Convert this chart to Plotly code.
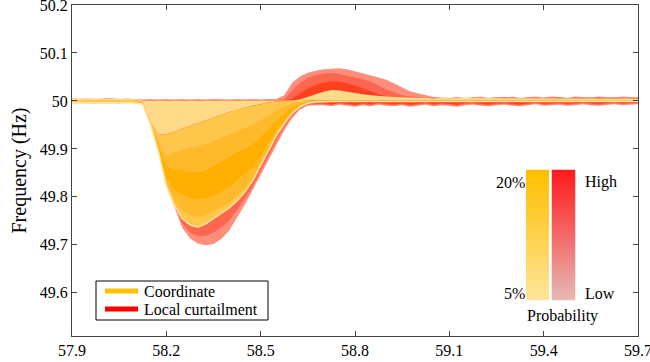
import plotly.graph_objects as go

# ---------------- data ----------------
X_ALL = [57.900, 57.925, 57.950, 57.975, 58.000, 58.025, 58.050, 58.075, 58.100,
         58.125, 58.150, 58.175, 58.200, 58.225, 58.250, 58.275, 58.300, 58.325,
         58.350, 58.375, 58.400, 58.425, 58.450, 58.475, 58.500, 58.525, 58.550,
         58.575, 58.600, 58.625, 58.650, 58.675, 58.700, 58.725, 58.750, 58.775,
         58.800, 58.825, 58.850, 58.875, 58.900, 58.925, 58.950, 58.975, 59.000,
         59.025, 59.050, 59.075, 59.100, 59.125, 59.150, 59.175, 59.200, 59.225,
         59.250, 59.275, 59.300, 59.325, 59.350, 59.375, 59.400, 59.425, 59.450,
         59.475, 59.500, 59.525, 59.550, 59.575, 59.600, 59.625, 59.650, 59.675,
         59.700]

X_DIP = [58.150, 58.175, 58.200, 58.225, 58.250, 58.275, 58.300, 58.325, 58.350,
         58.375, 58.400, 58.425, 58.450, 58.475, 58.500, 58.525, 58.550, 58.575,
         58.600, 58.625, 58.650, 58.675]

# Coordinate (orange) envelope: top, light/medium boundary, bottom edge
COORD_TOP = [50.004, 50.005, 50.004, 50.005, 50.004, 50.005, 50.004, 50.004, 50.004,
             50.001, 50.001, 50.001, 50.001, 50.001, 50.001, 50.001, 50.001, 50.001,
             50.001, 50.001, 50.001, 50.001, 50.001, 50.001, 50.001, 50.001, 50.001,
             50.001, 50.001, 50.003, 50.009, 50.014, 50.019, 50.023, 50.022, 50.019,
             50.016, 50.014, 50.012, 50.010, 50.009, 50.008, 50.007, 50.007, 50.006,
             50.006, 50.005, 50.006, 50.005, 50.006, 50.006, 50.005, 50.006, 50.005,
             50.006, 50.005, 50.006, 50.006, 50.005, 50.006, 50.005, 50.006, 50.006,
             50.005, 50.006, 50.005, 50.006, 50.006, 50.005, 50.006, 50.005, 50.006,
             50.005]
COORD_B1 = [50.002, 50.002, 50.002, 50.002, 50.002, 50.002, 50.002, 50.002, 50.002,
            49.998, 49.955, 49.930, 49.930, 49.936, 49.942, 49.948, 49.954, 49.960,
            49.965, 49.971, 49.977, 49.982, 49.986, 49.990, 49.994, 49.997, 49.999,
            50.000, 50.000, 50.000, 50.001, 50.001, 50.001, 50.001, 50.001, 50.001,
            50.001, 50.001, 50.001, 50.001, 50.001, 50.001, 50.001, 50.001, 50.001,
            50.002, 50.002, 50.002, 50.002, 50.002, 50.002, 50.002, 50.002, 50.002,
            50.002, 50.002, 50.002, 50.002, 50.002, 50.002, 50.002, 50.002, 50.002,
            50.002, 50.002, 50.002, 50.002, 50.002, 50.002, 50.002, 50.002, 50.002,
            50.002]
COORD_BOT = [49.996, 49.997, 49.996, 49.996, 49.997, 49.996, 49.996, 49.997, 49.996,
             49.993, 49.950, 49.894, 49.823, 49.783, 49.755, 49.742, 49.737, 49.744,
             49.755, 49.765, 49.777, 49.792, 49.810, 49.834, 49.865, 49.897, 49.928,
             49.953, 49.974, 49.988, 49.995, 49.998, 49.999, 49.999, 49.999, 49.999,
             49.999, 49.999, 49.999, 49.999, 49.999, 49.999, 49.999, 49.999, 49.999,
             49.999, 49.998, 49.999, 49.999, 49.998, 49.999, 49.999, 49.998, 49.999,
             49.999, 49.998, 49.999, 49.999, 49.998, 49.999, 49.999, 49.998, 49.999,
             49.999, 49.998, 49.999, 49.999, 49.998, 49.999, 49.999, 49.998, 49.999,
             49.999]
# inner probability boundaries of the Coordinate fan (over X_DIP)
COORD_B2 = [49.953, 49.915, 49.885, 49.893, 49.898, 49.902, 49.905, 49.910, 49.916,
            49.923, 49.930, 49.937, 49.944, 49.951, 49.960, 49.970, 49.980, 49.988,
            49.995, 49.998, 49.999, 49.999]
COORD_B3 = [49.952, 49.908, 49.862, 49.858, 49.855, 49.852, 49.851, 49.855, 49.864,
            49.874, 49.884, 49.893, 49.900, 49.910, 49.925, 49.942, 49.958, 49.972,
            49.986, 49.994, 49.998, 49.999]
COORD_B4 = [49.952, 49.900, 49.840, 49.815, 49.805, 49.798, 49.795, 49.797, 49.803,
            49.812, 49.821, 49.835, 49.848, 49.862, 49.885, 49.912, 49.938, 49.960,
            49.980, 49.992, 49.997, 49.999]
COORD_B5 = [49.951, 49.897, 49.828, 49.792, 49.772, 49.762, 49.758, 49.762, 49.770,
            49.779, 49.788, 49.802, 49.818, 49.840, 49.870, 49.902, 49.931, 49.955,
            49.976, 49.990, 49.996, 49.998]

# Local curtailment (red) envelopes: outer / inner / core, top and bottom
LOCAL_TOP_OUT = [50.005, 50.004, 50.005, 50.004, 50.005, 50.006, 50.004, 50.005, 50.004,
                 50.003, 50.004, 50.003, 50.004, 50.003, 50.004, 50.003, 50.004, 50.003,
                 50.004, 50.003, 50.003, 50.004, 50.003, 50.004, 50.003, 50.004, 50.004,
                 50.012, 50.038, 50.051, 50.059, 50.063, 50.066, 50.067, 50.068, 50.066,
                 50.062, 50.058, 50.054, 50.049, 50.044, 50.036, 50.028, 50.020, 50.016,
                 50.012, 50.008, 50.007, 50.006, 50.008, 50.006, 50.007, 50.009, 50.006,
                 50.008, 50.007, 50.009, 50.006, 50.008, 50.009, 50.007, 50.009, 50.008,
                 50.006, 50.009, 50.008, 50.007, 50.009, 50.008, 50.007, 50.009, 50.008,
                 50.007]
LOCAL_TOP_IN = [50.003, 50.002, 50.004, 50.002, 50.003, 50.004, 50.002, 50.003, 50.002,
                50.002, 50.002, 50.002, 50.002, 50.002, 50.002, 50.002, 50.002, 50.002,
                50.002, 50.002, 50.002, 50.002, 50.002, 50.002, 50.002, 50.002, 50.002,
                50.004, 50.022, 50.038, 50.048, 50.054, 50.057, 50.058, 50.056, 50.053,
                50.050, 50.046, 50.040, 50.032, 50.024, 50.018, 50.012, 50.009, 50.007,
                50.005, 50.006, 50.005, 50.004, 50.006, 50.005, 50.007, 50.005, 50.006,
                50.005, 50.007, 50.006, 50.005, 50.007, 50.006, 50.005, 50.007, 50.006,
                50.005, 50.007, 50.006, 50.007, 50.005, 50.006, 50.007, 50.006, 50.005,
                50.006]
LOCAL_TOP_CORE = [50.001, 50.001, 50.001, 50.001, 50.001, 50.001, 50.001, 50.001, 50.001,
                  50.001, 50.001, 50.001, 50.001, 50.001, 50.001, 50.001, 50.001, 50.001,
                  50.001, 50.001, 50.001, 50.001, 50.001, 50.001, 50.001, 50.001, 50.001,
                  50.001, 50.004, 50.016, 50.026, 50.033, 50.038, 50.041, 50.040, 50.037,
                  50.032, 50.026, 50.020, 50.013, 50.008, 50.005, 50.004, 50.003, 50.004,
                  50.003, 50.005, 50.004, 50.003, 50.005, 50.004, 50.006, 50.004, 50.003,
                  50.005, 50.007, 50.004, 50.005, 50.003, 50.006, 50.005, 50.004, 50.007,
                  50.005, 50.004, 50.006, 50.004, 50.007, 50.005, 50.006, 50.004, 50.005,
                  50.007]
LOCAL_BOT_CORE = [49.998, 49.997, 49.998, 49.996, 49.998, 49.997, 49.996, 49.998, 49.997,
                  49.995, 49.955, 49.910, 49.870, 49.850, 49.840, 49.830, 49.830, 49.830,
                  49.840, 49.850, 49.860, 49.870, 49.880, 49.900, 49.920, 49.940, 49.960,
                  49.975, 49.985, 49.992, 49.995, 49.995, 49.995, 49.993, 49.996, 49.994,
                  49.992, 49.995, 49.993, 49.996, 49.994, 49.993, 49.995, 49.992, 49.994,
                  49.996, 49.993, 49.995, 49.994, 49.992, 49.995, 49.996, 49.994, 49.993,
                  49.995, 49.996, 49.994, 49.993, 49.995, 49.997, 49.994, 49.995, 49.996,
                  49.994, 49.995, 49.997, 49.995, 49.994, 49.996, 49.997, 49.995, 49.996,
                  49.997]
LOCAL_BOT_IN = [49.996, 49.997, 49.996, 49.995, 49.997, 49.996, 49.995, 49.997, 49.996,
                49.994, 49.953, 49.902, 49.835, 49.788, 49.745, 49.726, 49.718, 49.719,
                49.726, 49.736, 49.751, 49.772, 49.796, 49.822, 49.853, 49.886, 49.918,
                49.946, 49.969, 49.985, 49.992, 49.993, 49.993, 49.991, 49.994, 49.992,
                49.990, 49.993, 49.991, 49.994, 49.992, 49.991, 49.993, 49.990, 49.992,
                49.994, 49.991, 49.993, 49.992, 49.990, 49.993, 49.994, 49.992, 49.991,
                49.993, 49.994, 49.992, 49.991, 49.993, 49.995, 49.992, 49.993, 49.994,
                49.992, 49.993, 49.995, 49.993, 49.992, 49.994, 49.995, 49.993, 49.994,
                49.995]
LOCAL_BOT_OUT = [49.995, 49.996, 49.995, 49.995, 49.996, 49.995, 49.995, 49.996, 49.995,
                 49.994, 49.952, 49.898, 49.830, 49.780, 49.736, 49.714, 49.703, 49.699,
                 49.702, 49.712, 49.730, 49.757, 49.784, 49.812, 49.843, 49.876, 49.908,
                 49.939, 49.964, 49.982, 49.990, 49.991, 49.991, 49.989, 49.992, 49.990,
                 49.988, 49.991, 49.989, 49.992, 49.990, 49.989, 49.991, 49.988, 49.990,
                 49.992, 49.989, 49.991, 49.990, 49.988, 49.991, 49.992, 49.990, 49.989,
                 49.991, 49.992, 49.990, 49.989, 49.991, 49.993, 49.990, 49.991, 49.992,
                 49.990, 49.991, 49.993, 49.991, 49.990, 49.992, 49.993, 49.991, 49.992,
                 49.993]

X_TICKS = [57.9, 58.2, 58.5, 58.8, 59.1, 59.4, 59.7]
X_TICK_TEXT = ["57.9", "58.2", "58.5", "58.8", "59.1", "59.4", "59.7"]
Y_TICKS = [49.6, 49.7, 49.8, 49.9, 50.0, 50.1, 50.2]
Y_TICK_TEXT = ["49.6", "49.7", "49.8", "49.9", "50", "50.1", "50.2"]

SERIES_NAMES = ["Coordinate", "Local curtailment"]
SERIES_COLORS = ["#FFC000", "#FF0000"]

# ---------------- styling ----------------
FONT = "Liberation Serif, Times New Roman, serif"
RED_OUT, RED_IN, RED_CORE = "#FF8E7C", "#FF6650", "#FF4020"
OR_LIGHT, OR_MED, OR_MID, OR_DARK, OR_EDGE = "#FFDA88", "#FEC64A", "#FFBA2C", "#FFAF00", "#FFE49C"

fig = go.Figure()


def band(xs, upper, lower, color):
    fig.add_trace(go.Scatter(
        x=list(xs) + list(xs)[::-1],
        y=list(upper) + list(lower)[::-1],
        fill="toself", fillcolor=color, mode="lines",
        line=dict(width=0, color=color), hoverinfo="skip", showlegend=False))


# Local curtailment fan (drawn underneath)
band(X_ALL, LOCAL_TOP_OUT, LOCAL_BOT_OUT, RED_OUT)
band(X_ALL, LOCAL_TOP_IN, LOCAL_BOT_IN, RED_IN)
band(X_ALL, LOCAL_TOP_CORE, LOCAL_BOT_CORE, RED_CORE)

# Coordinate fan
band(X_ALL, COORD_TOP, COORD_B1, OR_LIGHT)
band(X_ALL, COORD_B1, COORD_BOT, OR_MED)
band(X_DIP, COORD_B2, COORD_B5, OR_MID)
band(X_DIP, COORD_B3, COORD_B4, OR_DARK)
fig.add_trace(go.Scatter(x=X_ALL, y=COORD_BOT, mode="lines",
                         line=dict(color=OR_EDGE, width=1.5),
                         hoverinfo="skip", showlegend=False))

# probability colour bars
fig.add_trace(go.Heatmap(z=[[0, 0], [1, 1]], x=[0, 1], y=[0, 1], xaxis="x2", yaxis="y2",
                         colorscale=[[0, "#FFE59B"], [1, "#FFBE00"]], zsmooth="best",
                         showscale=False, hoverinfo="skip"))
fig.add_trace(go.Heatmap(z=[[0, 0], [1, 1]], x=[0, 1], y=[0, 1], xaxis="x3", yaxis="y3",
                         colorscale=[[0, "#E6BAB6"], [1, "#FF1A1A"]], zsmooth="best",
                         showscale=False, hoverinfo="skip"))

L, R, T, B = 72, 12, 5, 26
W, H = 650, 362
PW, PH = W - L - R, H - T - B


def px_x(p):
    return (p - L) / PW


def px_y(p):
    return (H - B - p) / PH


axis_common = dict(showgrid=False, zeroline=False, showline=True, linecolor="#444444",
                   linewidth=1.2, ticks="inside", ticklen=5, tickcolor="#444444",
                   mirror="ticks", ticklabeloverflow="allow", automargin=False,
                   tickfont=dict(family=FONT, size=16, color="black"))

fig.update_layout(
    width=W, height=H,
    margin=dict(l=L, r=R, t=T, b=B, autoexpand=False),
    paper_bgcolor="white", plot_bgcolor="white",
    font=dict(family=FONT, size=16, color="black"),
    xaxis=dict(range=[57.9, 59.7], tickvals=X_TICKS, ticktext=X_TICK_TEXT, **axis_common),
    yaxis=dict(range=[49.51, 50.2], tickvals=Y_TICKS, ticktext=Y_TICK_TEXT,
               title=dict(text="Frequency (Hz)", font=dict(family=FONT, size=20), standoff=7),
               **axis_common),
    xaxis2=dict(domain=[px_x(526), px_x(549)], range=[0, 1], visible=False, anchor="y2"),
    yaxis2=dict(domain=[px_y(300.5), px_y(169.5)], range=[0, 1], visible=False, anchor="x2"),
    xaxis3=dict(domain=[px_x(551.5), px_x(575.5)], range=[0, 1], visible=False, anchor="y3"),
    yaxis3=dict(domain=[px_y(300.5), px_y(169.5)], range=[0, 1], visible=False, anchor="x3"),
    showlegend=False,
)

# legend box (drawn by hand to match the original's compact layout)
fig.add_shape(type="rect", xref="paper", yref="paper",
              x0=px_x(96), x1=px_x(268), y0=px_y(320), y1=px_y(281),
              line=dict(color="black", width=1), fillcolor="white", layer="above")
for i, (name, col) in enumerate(zip(SERIES_NAMES, SERIES_COLORS)):
    yy = 291 + 18 * i
    fig.add_shape(type="line", xref="paper", yref="paper",
                  x0=px_x(105), x1=px_x(138), y0=px_y(yy), y1=px_y(yy),
                  line=dict(color=col, width=5), layer="above")
    fig.add_annotation(x=px_x(142), y=px_y(yy), xref="paper", yref="paper", text=name,
                       showarrow=False, xanchor="left", yanchor="middle",
                       font=dict(family=FONT, size=16, color="black"))

ann_font = dict(family=FONT, size=16, color="black")
fig.add_annotation(x=px_x(527), y=px_y(182), xref="paper", yref="paper", text="20%",
                   showarrow=False, xanchor="right", yanchor="middle", font=ann_font)
fig.add_annotation(x=px_x(527), y=px_y(293), xref="paper", yref="paper", text="5%",
                   showarrow=False, xanchor="right", yanchor="middle", font=ann_font)
fig.add_annotation(x=px_x(583), y=px_y(182), xref="paper", yref="paper", text="High",
                   showarrow=False, xanchor="left", yanchor="middle", font=ann_font)
fig.add_annotation(x=px_x(583), y=px_y(293), xref="paper", yref="paper", text="Low",
                   showarrow=False, xanchor="left", yanchor="middle", font=ann_font)
fig.add_annotation(x=px_x(562), y=px_y(316), xref="paper", yref="paper", text="Probability",
                   showarrow=False, xanchor="center", yanchor="middle", font=ann_font)

fig.write_html("out.html", config={"displayModeBar": False})

# remove the browser's default page margin so the figure sits at the window origin
with open("out.html", "r", encoding="utf-8") as f:
    html = f.read()
html = html.replace("<head>", "<head><style>html,body{margin:0;padding:0;overflow:hidden;}</style>", 1)
with open("out.html", "w", encoding="utf-8") as f:
    f.write(html)
